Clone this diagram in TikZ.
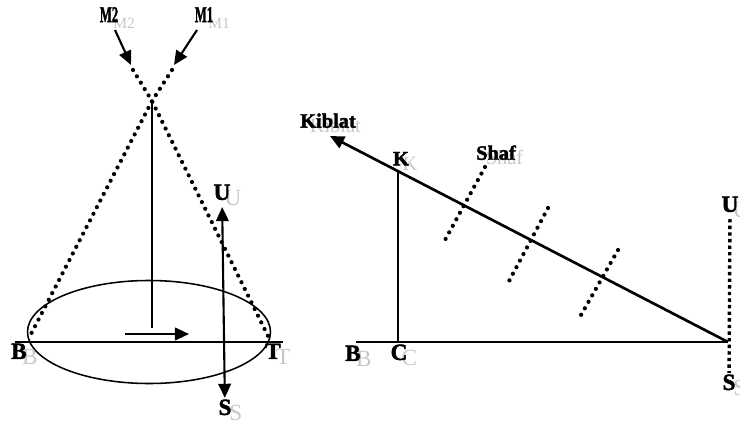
\documentclass[tikz,border=0pt]{standalone}
\usepackage{fontspec}
\setmainfont{Liberation Serif}
\newfontfamily\heavyfont{Liberation Serif}[BoldFeatures={FakeBold=2}]
\usetikzlibrary{arrows.meta}
% bold letter with a light grey copy behind it
\newcommand{\shadowlbl}[1]{\makebox[0pt][l]{\hspace{0.47em}\raisebox{-0.23em}{\rmfamily\mdseries\color{black!22}#1}}{\heavyfont\bfseries #1}}
\newcommand{\narrowlbl}[1]{\makebox[0pt][l]{\hspace{0.6em}\raisebox{-0.3em}{\rmfamily\mdseries\fontsize{11}{13}\selectfont\color{black!22}#1}}\scalebox{0.56}[1]{\heavyfont\bfseries #1}}
\begin{document}
\begin{tikzpicture}[x=0.025cm, y=-0.025cm,
    lbl/.style={inner sep=1pt, font=\fontsize{16.5}{18}\selectfont},
    wordlbl/.style={inner sep=1pt, font=\fontsize{14.5}{16}\selectfont},
    mlbl/.style={inner sep=1pt, font=\fontsize{16}{18}\selectfont},
    thinline/.style={line width=1.1pt},
    thickline/.style={line width=1.5pt},
    dotline/.style={line width=3pt, line cap=round, dash pattern=on 0pt off 5.3pt},
    densedot/.style={line width=2.4pt, dash pattern=on 2.4pt off 2.3pt},
    tip/.style={-{Triangle[length=10pt,width=9pt]}},
    twotip/.style={{Triangle[length=10pt,width=9pt]}-{Triangle[length=10pt,width=9pt]}}]
    \useasboundingbox (0,0) rectangle (740,420);
    % Left figure: two lines of sight crossing
    \node[mlbl] (m2) at (109,18) {\narrowlbl{M2}};
    \node[mlbl] (m1) at (204,18) {\narrowlbl{M1}};
    \coordinate (m2start) at (115,30);
    \coordinate (m1start) at (197,30);
    \coordinate (m2tip) at (131,65);
    \coordinate (m1tip) at (174,65);
    \draw[thickline, tip] (m2start) -- (m2tip);
    \draw[thickline, tip] (m1start) -- (m1tip);
    \coordinate (cross) at (152,101);
    \coordinate (topA) at (133,70);
    \coordinate (topB) at (172,70);
    \coordinate (endT) at (268,336);
    \coordinate (endB) at (31,334);
    \draw[dotline] (topA) -- (cross) -- (endT);
    \draw[dotline] (topB) -- (cross) -- (endB);
    % Horizon circle and axis
    \coordinate (centre) at (149,332);
    \draw[thinline] (centre) ellipse (121.5 and 51.5);
    \coordinate (west) at (15,342);
    \coordinate (east) at (283,342);
    \draw[thinline] (west) -- (east);
    \coordinate (foot) at (152,328);
    \draw[thinline] (cross) -- (foot);
    \coordinate (arrL) at (125,334);
    \coordinate (arrR) at (189,334);
    \draw[thickline, tip] (arrL) -- (arrR);
    \node[lbl] (bL) at (19,354) {\shadowlbl{B}};
    \node[lbl] (tL) at (273,354) {\shadowlbl{T}};
    \node[lbl] (uL) at (222,195) {\shadowlbl{U}};
    \node[lbl] (sL) at (225,410) {\shadowlbl{S}};
    \draw[thickline, twotip] (uL) -- (sL);
    % Right figure: qibla direction and rows
    \coordinate (corner) at (728,342);
    \coordinate (ktip) at (330,136);
    \draw[line width=1.9pt, tip] (corner) -- (ktip);
    \node[wordlbl] (kiblat) at (328,123) {\shadowlbl{Kiblat}};
    \node[wordlbl] (k) at (401,161) {\shadowlbl{K}};
    \node[wordlbl] (shaf) at (496,155) {\shadowlbl{Shaf}};
    \coordinate (ktop) at (398,171);
    \coordinate (kfoot) at (398,342);
    \draw[thinline] (ktop) -- (kfoot);
    \coordinate (baseW) at (356,342);
    \draw[thickline] (baseW) -- (corner);
    \node[lbl] (bR) at (353,356) {\shadowlbl{B}};
    \node[lbl] (cR) at (399,355) {\shadowlbl{C}};
    \node[lbl] (uR) at (730,207) {\shadowlbl{U}};
    \node[lbl] (sR) at (729,385) {\shadowlbl{S}};
    \draw[densedot] (uR) -- (sR);
    % Rows of worshippers
    \foreach \xa/\ya/\xb/\yb in {485/167/445/240, 548/208/508/283, 618/250/581/315}
        \draw[dotline] (\xa,\ya) -- (\xb,\yb);
\end{tikzpicture}
\end{document}
